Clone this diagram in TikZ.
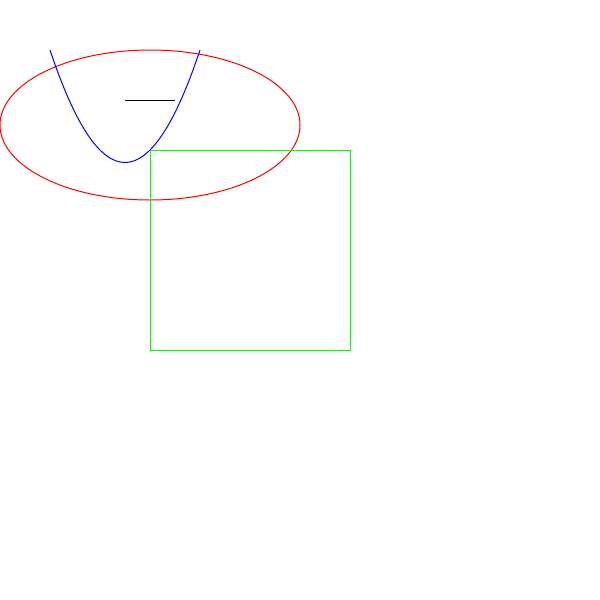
\documentclass[tikz,border=0pt]{standalone}
\usepackage{xcolor}
\usepackage{tikz}
\definecolor{lime}{HTML}{00FF00}

\begin{document}
\begin{tikzpicture}[
  x=1pt,y=-1pt,
  every path/.style={line width=1pt},
  oval/.style={draw=red},
  curve/.style={draw=blue},
  box/.style={draw=lime},
  bar/.style={draw=black}
]
\useasboundingbox (0,0) rectangle (600,600);

\draw[oval] (150,125) ellipse [x radius=150, y radius=75];
\draw[box] (150,150) rectangle (350,350);
% quadratic curve, control point (125,275)
\draw[curve] (50,50) .. controls (100,200) and (150,200) .. (200,50);
\draw[bar] (125,100) -- (175,100);
\end{tikzpicture}
\end{document}
